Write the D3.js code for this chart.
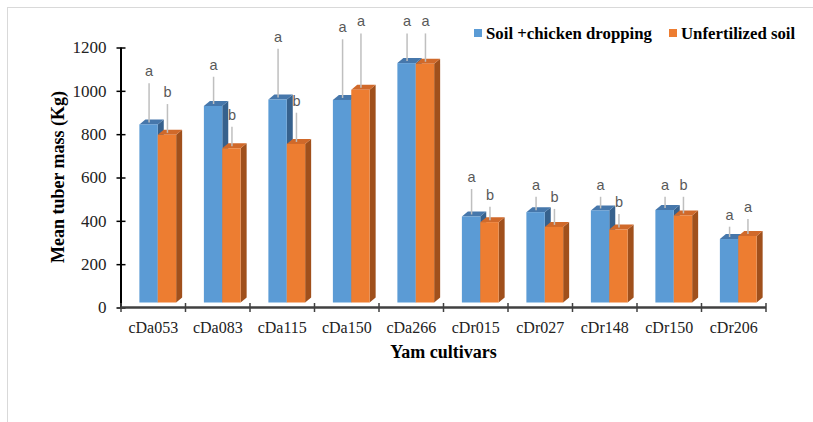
<!DOCTYPE html>
<html>
<head>
<meta charset="utf-8">
<script src="https://cdn.jsdelivr.net/npm/d3@7"></script>
<style>
  html, body { margin: 0; padding: 0; background: #fff; }
  svg { display: block; }
</style>
</head>
<body>
<svg id="chart" width="813" height="422"></svg>
<script>
// ---- data ----
const categories = ["cDa053","cDa083","cDa115","cDa150","cDa266","cDr015","cDr027","cDr148","cDr150","cDr206"];
const seriesNames = ["Soil +chicken dropping", "Unfertilized soil"];
const fertilized = [845, 930, 960, 958, 1128, 420, 440, 448, 450, 316];
const unfertilized = [797, 735, 755, 1005, 1125, 394, 372, 360, 425, 330];
const fertilizedErr = [190, 135, 234, 280, 137, 127, 71, 63, 61, 57];
const unfertilizedErr = [142, 99, 144, 260, 140, 71, 83, 71, 86, 78];
const fertilizedLetters = ["a","a","a","a","a","a","a","a","a","a"];
const unfertilizedLetters = ["b","b","b","a","a","b","b","b","b","a"];
const yTicks = [0, 200, 400, 600, 800, 1000, 1200];

(function () {
// ---- layout ----
const svg = d3.select("#chart");
const pLeft = 121, pRight = 766, pTop = 47.5, pBottom = 307.5;
const dx = 6, dy = 5;

const x = d3.scaleBand().domain(categories).range([pLeft, pRight]).paddingInner(0).paddingOuter(0);
const y = d3.scaleLinear().domain([0, 1200]).range([pBottom, pTop]);

// frame
svg.append("rect").attr("x", 7.5).attr("y", 7.5).attr("width", 830).attr("height", 440)
  .attr("fill", "none").attr("stroke", "#d9d9d9").attr("stroke-width", 1);

const series = [
  { name: seriesNames[0], values: fertilized, err: fertilizedErr, letters: fertilizedLetters,
    front: "#5B9BD5", topc: "#4677AB", side: "#36618D", idx: 0 },
  { name: seriesNames[1], values: unfertilized, err: unfertilizedErr, letters: unfertilizedLetters,
    front: "#ED7D31", topc: "#D0692A", side: "#A0501C", idx: 1 }
];

const bw = x.bandwidth() * 0.285;
const off = x.bandwidth() * 0.285;
const barX = (c, i) => x(c) + off + i * bw;
const floorY = y(0) - dy;

const bars = svg.append("g");
categories.forEach((c, ci) => {
  series.forEach(s => {
    const v = s.values[ci];
    const x0 = barX(c, s.idx), yt = y(v);
    const g = bars.append("g");
    g.append("polygon")
      .attr("points", [[x0+bw, yt], [x0+bw+dx, yt-dy], [x0+bw+dx, floorY-dy], [x0+bw, floorY]].map(p => p.join(",")).join(" "))
      .attr("fill", s.side);
    g.append("polygon")
      .attr("points", [[x0, yt], [x0+dx, yt-dy], [x0+bw+dx, yt-dy], [x0+bw, yt]].map(p => p.join(",")).join(" "))
      .attr("fill", s.topc);
    g.append("rect").attr("x", x0).attr("y", yt).attr("width", bw).attr("height", floorY - yt)
      .attr("fill", s.front);
  });
});

// error bars and letters
const eb = svg.append("g");
categories.forEach((c, ci) => {
  series.forEach(s => {
    const v = s.values[ci], e = s.err[ci];
    const cx = barX(c, s.idx) + bw / 2 + 0.5;
    eb.append("line").attr("x1", cx).attr("x2", cx)
      .attr("y1", y(v) - 2).attr("y2", y(v + e))
      .attr("stroke", "#BFBFBF").attr("stroke-width", 1.5);
    eb.append("text").attr("x", cx).attr("y", y(v + e) - 7)
      .attr("text-anchor", "middle")
      .attr("font-family", "'Liberation Sans', Arial, sans-serif")
      .attr("font-size", 14.5).attr("fill", "#595959")
      .text(s.letters[ci]);
  });
});

// y axis
const yAxis = svg.append("g").attr("transform", `translate(${pLeft},0)`)
  .call(d3.axisLeft(y).tickValues(yTicks).tickSize(4.5).tickPadding(10).tickFormat(d3.format("d")));
yAxis.select(".domain").attr("stroke", "#000").attr("stroke-width", 2).attr("d", `M0,${pTop}V${pBottom}`);
yAxis.selectAll(".tick line").attr("x1", 4.5).attr("stroke", "#000").attr("stroke-width", 1.5);
yAxis.selectAll(".tick text")
  .attr("font-family", "'Liberation Serif', 'Times New Roman', serif")
  .attr("font-size", 17).attr("fill", "#222");

// x axis
const xAxis = svg.append("g").attr("transform", `translate(0,${pBottom})`)
  .call(d3.axisBottom(x).tickSize(0).tickPadding(14));
xAxis.select(".domain").attr("stroke", "#404040").attr("stroke-width", 2.5).attr("d", `M${pLeft},0H${pRight}`);
xAxis.selectAll(".tick text")
  .attr("font-family", "'Liberation Serif', 'Times New Roman', serif")
  .attr("font-size", 16).attr("fill", "#222");
const bounds = categories.map(c => x(c) + x.bandwidth()).concat([pLeft]);
xAxis.selectAll(".bound").data(bounds).enter().append("line")
  .attr("x1", d => d).attr("x2", d => d).attr("y1", -4.5).attr("y2", 4.5)
  .attr("stroke", "#404040").attr("stroke-width", 1.5);

// axis titles
svg.append("text").attr("x", (pLeft + pRight) / 2).attr("y", 358)
  .attr("text-anchor", "middle")
  .attr("font-family", "'Liberation Serif', 'Times New Roman', serif")
  .attr("font-weight", "bold").attr("font-size", 18).attr("fill", "#000")
  .text("Yam cultivars");
svg.append("text").attr("transform", "translate(64,177) rotate(-90)")
  .attr("text-anchor", "middle")
  .attr("font-family", "'Liberation Serif', 'Times New Roman', serif")
  .attr("font-weight", "bold").attr("font-size", 18).attr("fill", "#000")
  .text("Mean tuber mass (Kg)");

// legend
const legendX = [474, 669];
series.forEach((s, i) => {
  svg.append("rect").attr("x", legendX[i]).attr("y", 29).attr("width", 8).attr("height", 8).attr("fill", s.front);
  svg.append("text").attr("x", legendX[i] + 12).attr("y", 38.5)
    .attr("font-family", "'Liberation Serif', 'Times New Roman', serif")
    .attr("font-weight", "bold").attr("font-size", 16.8).attr("fill", "#000")
    .text(s.name);
});
})();
</script>
</body>
</html>
